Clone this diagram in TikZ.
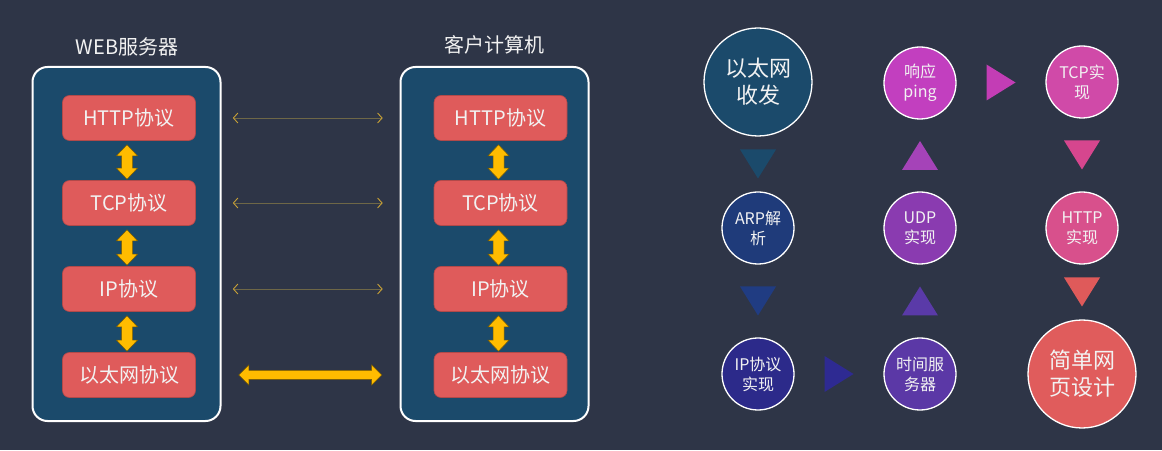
\documentclass[tikz,border=0pt]{standalone}
\usepackage{fontspec}
\setmainfont{Noto Sans CJK SC}
\usetikzlibrary{arrows.meta,calc}
\definecolor{bg}{HTML}{2E3547}
\definecolor{panelc}{HTML}{1B4A6B}
\definecolor{protoc}{HTML}{DF5B5B}
\definecolor{yel}{HTML}{FFBC00}
\definecolor{yeldark}{HTML}{7A5C00}
\definecolor{thinline}{HTML}{6E6747}
\definecolor{thead}{HTML}{C9A236}
\definecolor{txt}{HTML}{F2F2F2}
\definecolor{cA}{HTML}{1B4A6B}
\definecolor{cB}{HTML}{C23FBF}
\definecolor{cC}{HTML}{D04AA8}
\definecolor{cD}{HTML}{1F3B7A}
\definecolor{cE}{HTML}{8A3BB0}
\definecolor{cF}{HTML}{D8508C}
\definecolor{cG}{HTML}{2C2A8A}
\definecolor{cH}{HTML}{5B38A6}
\definecolor{cI}{HTML}{E05C5C}
\definecolor{tA}{HTML}{1B4A6B}
\definecolor{tB}{HTML}{203C82}
\definecolor{tC}{HTML}{2E2A92}
\definecolor{tD}{HTML}{5A3AA8}
\definecolor{tE}{HTML}{A543B8}
\definecolor{tF}{HTML}{C33DB5}
\definecolor{tG}{HTML}{D6468E}
\definecolor{tH}{HTML}{DF5A5A}
\newcommand\vdbl[2]{%
  \filldraw[yelfill] let \p1=($(#1.south)+(-2pt,-4pt)$), \p2=($(#2.north)+(-2pt,1pt)$) in
    (\x1,\y1) -- (\x1+10.5pt,\y1-11pt) -- (\x1+5.5pt,\y1-11pt) -- (\x1+5.5pt,\y2+11pt)
    -- (\x1+10.5pt,\y2+11pt) -- (\x1,\y2) -- (\x1-10.5pt,\y2+11pt) -- (\x1-5.5pt,\y2+11pt)
    -- (\x1-5.5pt,\y1-11pt) -- (\x1-10.5pt,\y1-11pt) -- cycle;}
\newcommand\tri[4]{%
  \fill[#4, shift={($(#1)!0.5!(#2)$)}, rotate=#3] (-14.5,18) -- (14.5,0) -- (-14.5,-18) -- cycle;}
\begin{document}
\begin{tikzpicture}[x=1pt,y=1pt,
  panel/.style={draw=white, line width=2pt, fill=panelc, rounded corners=15pt,
    minimum width=188pt, minimum height=354pt, inner sep=0pt},
  title/.style={text=txt, font=\fontsize{20}{24}\selectfont, inner sep=0pt},
  proto/.style={fill=protoc, draw=protoc!80!black, line width=0.6pt, rounded corners=7pt,
    minimum width=133pt, minimum height=45pt, inner sep=0pt, text=txt,
    font=\fontsize{20}{24}\selectfont},
  yelfill/.style={fill=yel, draw=yeldark, line width=0.5pt},
  thinarr/.style={draw=thinline, line width=0.9pt,
    {Straight Barb[color=thead,length=4.5pt,width=10pt,line width=0.9pt]}-{Straight Barb[color=thead,length=4.5pt,width=10pt,line width=0.9pt]}},
  circ/.style={circle, draw=white, line width=1.3pt, inner sep=0pt, text=txt, align=center},
  smallc/.style={circ, minimum size=72pt, font=\fontsize{16}{20}\selectfont},
  bigc/.style={circ, minimum size=108pt, font=\fontsize{22}{27}\selectfont}
]
\fill[bg] (0,0) rectangle (1162,450);
\useasboundingbox (0,0) rectangle (1162,450);
% panels
\node[panel] (lp) at (126.5,206) {};
\node[panel] (rp) at (494.5,206) {};
\node[title] (lt) at (127,403) {WEB服务器};
\node[title] (rt) at (494,405) {客户计算机};
% protocol boxes
\node[proto] (l1) at (129,332) {HTTP协议};
\node[proto] (l2) at (129,247) {TCP协议};
\node[proto] (l3) at (129,161) {IP协议};
\node[proto] (l4) at (129,75) {以太网协议};
\node[proto] (r1) at (500.5,332) {HTTP协议};
\node[proto] (r2) at (500.5,247) {TCP协议};
\node[proto] (r3) at (500.5,161) {IP协议};
\node[proto] (r4) at (500.5,75) {以太网协议};
% vertical arrows
\vdbl{l1}{l2}\vdbl{l2}{l3}\vdbl{l3}{l4}
\vdbl{r1}{r2}\vdbl{r2}{r3}\vdbl{r3}{r4}
% thin horizontal arrows
\draw[thinarr] ([xshift=37pt]l1.east) -- ([xshift=-51pt]r1.west);
\draw[thinarr] ([xshift=37pt]l2.east) -- ([xshift=-51pt]r2.west);
\draw[thinarr] ([xshift=37pt]l3.east) -- ([xshift=-51pt]r3.west);
% thick horizontal arrow
\filldraw[yelfill] let \p1=($(l4.east)+(43pt,0)$), \p2=($(r4.west)+(-52pt,0)$) in
  (\x1,\y1) -- (\x1+10pt,\y1+10pt) -- (\x1+10pt,\y1+4.5pt) -- (\x2-10pt,\y1+4.5pt)
  -- (\x2-10pt,\y1+10pt) -- (\x2,\y1) -- (\x2-10pt,\y1-10pt) -- (\x2-10pt,\y1-4.5pt)
  -- (\x1+10pt,\y1-4.5pt) -- (\x1+10pt,\y1-10pt) -- cycle;
% circles
\node[bigc, fill=cA] (c1) at (758,368) {以太网\\收发};
\node[smallc, fill=cB] (c2) at (920,367) {响应\\ping};
\node[smallc, fill=cC] (c3) at (1082,368) {TCP实\\现};
\node[smallc, fill=cD] (c4) at (758,222) {ARP解\\析};
\node[smallc, fill=cE] (c5) at (920,222) {UDP\\实现};
\node[smallc, fill=cF] (c6) at (1082,222) {HTTP\\实现};
\node[smallc, fill=cG] (c7) at (758,76) {IP协议\\实现};
\node[smallc, fill=cH] (c8) at (920,76) {时间服\\务器};
\node[bigc, fill=cI] (c9) at (1082,76) {简单网\\页设计};
% triangles
\tri{c1.south}{c4.north}{-90}{tA}
\tri{c4.south}{c7.north}{-90}{tB}
\tri{c7.east}{c8.west}{0}{tC}
\tri{c8.north}{c5.south}{90}{tD}
\tri{c5.north}{c2.south}{90}{tE}
\tri{c2.east}{c3.west}{0}{tF}
\tri{c3.south}{c6.north}{-90}{tG}
\tri{c6.south}{c9.north}{-90}{tH}
\end{tikzpicture}
\end{document}
